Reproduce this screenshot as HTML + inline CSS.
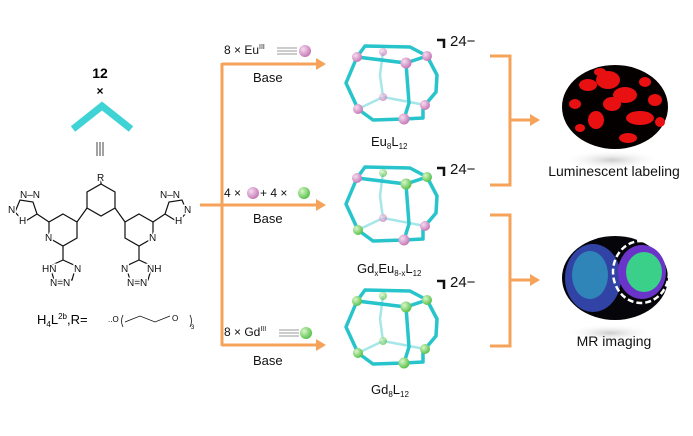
<!DOCTYPE html>
<html><head><meta charset="utf-8"><style>
html,body{margin:0;padding:0;background:#fff;}
body{width:693px;height:431px;position:relative;overflow:hidden;font-family:"Liberation Sans",Arial,sans-serif;}
</style></head><body>
<svg width="693" height="431" viewBox="0 0 693 431" xmlns="http://www.w3.org/2000/svg" font-family="Liberation Sans, Arial, sans-serif">
<defs>
<radialGradient id="pk" cx="35%" cy="35%" r="65%"><stop offset="0" stop-color="#f6dcf0"/><stop offset="1" stop-color="#c77bb8"/></radialGradient>
<radialGradient id="gr" cx="35%" cy="35%" r="65%"><stop offset="0" stop-color="#d9f7c8"/><stop offset="1" stop-color="#5cc24f"/></radialGradient>
<radialGradient id="sh" cx="50%" cy="50%" r="50%"><stop offset="0" stop-color="#ccc"/><stop offset="1" stop-color="#fff" stop-opacity="0"/></radialGradient>
<g id="cage">
 <g stroke="#a6e6e8" stroke-width="2.5" fill="none">
  <polyline points="383,52 380,75 383,97 358,109"/><polyline points="383,97 425,105"/>
 </g>
 <g stroke="#27c4cb" stroke-width="3.5" fill="none" stroke-linejoin="round">
  <polyline points="357,57 365,46 410,47 427,56"/>
  <polyline points="357,57 346,83 358,109 373,120 404,119"/>
  <polyline points="427,56 437,75 436,92 425,105"/>
  <polyline points="404,119 423,118 423,105 425,105"/>
  <polyline points="357,57 406,63 427,56"/>
  <polyline points="406,63 409,103 404,119"/>
 </g>
</g>
</defs>
<!-- ligand -->
<text x="100" y="78" font-size="14" font-weight="bold" text-anchor="middle">12</text>
<text x="100" y="95" font-size="12" font-weight="bold" text-anchor="middle">×</text>
<polyline points="73,129 102,106 131,129" stroke="#3fd3d6" stroke-width="7" fill="none"/>
<g stroke="#444" stroke-width="1"><line x1="97" y1="142" x2="97" y2="156"/><line x1="100" y1="142" x2="100" y2="156"/><line x1="103" y1="142" x2="103" y2="156"/></g>
<g stroke="#111" stroke-width="1.2" fill="none">
 <polygon points="101,184 115,192 115,208 101,216 87,208 87,192"/>
 <line x1="101" y1="184" x2="101" y2="174"/>
 <polygon points="63,214 77,222 77,238 63,246 49,238 49,222"/>
 <polygon points="139,214 153,222 153,238 139,246 125,238 125,222"/>
 <line x1="87" y1="208" x2="77" y2="222"/><line x1="115" y1="208" x2="125" y2="222"/>
 <line x1="49" y1="222" x2="37" y2="214"/><line x1="153" y1="222" x2="165" y2="214"/>
 <line x1="63" y1="246" x2="63" y2="260"/><line x1="139" y1="246" x2="139" y2="260"/>
 <polygon points="37,214 33,202 20,200 15,212 24,222"/>
 <polygon points="165,214 169,202 182,200 187,212 178,222"/>
 <polygon points="63,260 50,266 54,280 72,280 76,266"/>
 <polygon points="139,260 126,266 130,280 148,280 152,266"/>
</g>
<g font-size="10" fill="#111" stroke="#fff" stroke-width="3" paint-order="stroke">
 <text x="97" y="181">R</text>
 <text x="45" y="241">N</text><text x="149" y="241">N</text>
 <text x="20" y="198">N–N</text><text x="8" y="213">N</text><text x="19" y="224">H</text>
 <text x="160" y="198">N–N</text><text x="184" y="213">N</text><text x="175" y="224">H</text>
 <text x="42" y="272">HN</text><text x="74" y="272">N</text><text x="50" y="286">N=N</text>
 <text x="121" y="272">N</text><text x="147" y="272">NH</text><text x="127" y="286">N=N</text>
</g>
<text x="37" y="324" font-size="13">H<tspan font-size="8" dy="3">4</tspan><tspan dy="-3">L</tspan><tspan font-size="8" dy="-5">2b</tspan><tspan dy="5">,R=</tspan></text>
<text x="108" y="322" font-size="8">..O</text><path d="M123 315 q-3 6 0 12 M190 315 q3 6 0 12" stroke="#111" fill="none" stroke-width="0.8"/>
<polyline points="125,322 140,316 155,322 170,316" stroke="#111" fill="none" stroke-width="0.8"/><text x="172" y="321" font-size="8">O</text><text x="191" y="329" font-size="6">3</text>
<!-- arrows -->
<g stroke="#f5a35a" stroke-width="3" fill="#f5a35a">
 <line x1="222" y1="63" x2="222" y2="346"/>
 <line x1="200" y1="205" x2="318" y2="205"/>
 <line x1="222" y1="64" x2="318" y2="64"/>
 <line x1="222" y1="345" x2="318" y2="345"/>
 <polygon stroke="none" points="316,58 326,64 316,70"/><polygon stroke="none" points="316,199 326,205 316,211"/><polygon stroke="none" points="316,339 326,345 316,351"/>
 <polyline fill="none" points="490,56 510,56 510,185 490,185"/><line x1="510" y1="120" x2="532" y2="120"/>
 <polygon stroke="none" points="530,114 540,120 530,126"/>
 <polyline fill="none" points="490,215 510,215 510,346 490,346"/><line x1="510" y1="280" x2="532" y2="280"/>
 <polygon stroke="none" points="530,274 540,280 530,286"/>
</g>
<g font-size="12" fill="#111">
 <text x="224" y="54">8 × Eu<tspan font-size="7" dy="-5">III</tspan></text>
 <text x="253" y="82" font-size="13">Base</text>
 <text x="224" y="197">4 ×</text><text x="260" y="197">+ 4 ×</text>
 <text x="253" y="223" font-size="13">Base</text>
 <text x="224" y="336">8 × Gd<tspan font-size="7" dy="-5">III</tspan></text>
 <text x="253" y="365" font-size="13">Base</text>
</g>
<g stroke="#777" stroke-width="0.8"><line x1="277" y1="48" x2="297" y2="48"/><line x1="277" y1="51" x2="297" y2="51"/><line x1="277" y1="54" x2="297" y2="54"/>
<line x1="279" y1="330" x2="299" y2="330"/><line x1="279" y1="333" x2="299" y2="333"/><line x1="279" y1="336" x2="299" y2="336"/></g>
<circle cx="305" cy="51" r="6" fill="url(#pk)"/><circle cx="253" cy="193" r="6" fill="url(#pk)"/>
<circle cx="304" cy="193" r="6" fill="url(#gr)"/><circle cx="306" cy="333" r="6" fill="url(#gr)"/>
<!-- cages -->
<use href="#cage"/>
<g fill="url(#pk)"><circle cx="357" cy="57" r="5"/><circle cx="383" cy="52" r="4" opacity=".7"/><circle cx="406" cy="63" r="5.5"/><circle cx="427" cy="56" r="5"/><circle cx="383" cy="97" r="4" opacity=".7"/><circle cx="358" cy="109" r="5"/><circle cx="425" cy="105" r="5"/><circle cx="404" cy="119" r="5.5"/></g>
<g transform="translate(0,121)"><use href="#cage"/>
<circle cx="357" cy="57" r="5" fill="url(#pk)"/><circle cx="383" cy="52" r="4" fill="url(#gr)" opacity=".7"/><circle cx="406" cy="63" r="5.5" fill="url(#gr)"/><circle cx="427" cy="56" r="5" fill="url(#gr)"/><circle cx="383" cy="97" r="4" fill="url(#pk)" opacity=".7"/><circle cx="358" cy="109" r="5" fill="url(#gr)"/><circle cx="425" cy="105" r="5" fill="url(#pk)"/><circle cx="404" cy="119" r="5.5" fill="url(#pk)"/></g>
<g transform="translate(0,244)"><use href="#cage"/>
<g fill="url(#gr)"><circle cx="357" cy="57" r="5"/><circle cx="383" cy="52" r="4" opacity=".7"/><circle cx="406" cy="63" r="5.5"/><circle cx="427" cy="56" r="5"/><circle cx="383" cy="97" r="4" opacity=".7"/><circle cx="358" cy="109" r="5"/><circle cx="425" cy="105" r="5"/><circle cx="404" cy="119" r="5.5"/></g></g>
<g font-size="13" fill="#111">
 <text x="371" y="146">Eu<tspan font-size="8" dy="3">8</tspan><tspan dy="-3">L</tspan><tspan font-size="8" dy="3">12</tspan></text>
 <text x="357" y="273">Gd<tspan font-size="8" dy="3">x</tspan><tspan dy="-3">Eu</tspan><tspan font-size="8" dy="3">8-x</tspan><tspan dy="-3">L</tspan><tspan font-size="8" dy="3">12</tspan></text>
 <text x="371" y="394">Gd<tspan font-size="8" dy="3">8</tspan><tspan dy="-3">L</tspan><tspan font-size="8" dy="3">12</tspan></text>
 <g font-size="15"><text x="450" y="46">24−</text><text x="450" y="174">24−</text><text x="450" y="287">24−</text></g>
</g>
<g stroke="#111" stroke-width="2.5" fill="none"><polyline points="437,40 444,40 444,48"/><polyline points="437,168 444,168 444,176"/><polyline points="437,281 444,281 444,289"/></g>
<!-- images -->
<ellipse cx="612" cy="160" rx="50" ry="10" fill="url(#sh)"/>
<ellipse cx="615" cy="107" rx="53" ry="42" fill="#050000"/>
<g fill="#e81010">
 <ellipse cx="588" cy="85" rx="9" ry="6"/><ellipse cx="608" cy="80" rx="12" ry="9"/><ellipse cx="625" cy="95" rx="12" ry="8"/><ellipse cx="612" cy="104" rx="9" ry="7"/>
 <ellipse cx="640" cy="118" rx="14" ry="7"/><ellipse cx="596" cy="120" rx="8" ry="9"/><ellipse cx="655" cy="100" rx="7" ry="6"/><ellipse cx="628" cy="138" rx="9" ry="5"/><ellipse cx="575" cy="104" rx="6" ry="5"/><ellipse cx="645" cy="82" rx="6" ry="5"/><ellipse cx="580" cy="128" rx="5" ry="4"/><ellipse cx="600" cy="72" rx="6" ry="4"/><ellipse cx="660" cy="122" rx="5" ry="5"/>
</g>
<text x="614" y="176" font-size="14" text-anchor="middle" fill="#111">Luminescent labeling</text>
<ellipse cx="610" cy="333" rx="45" ry="9" fill="url(#sh)"/>
<ellipse cx="615" cy="278" rx="53" ry="42" fill="#05050a"/>
<ellipse cx="593" cy="278" rx="28" ry="34" fill="#3a4fc0" opacity=".85"/>
<ellipse cx="590" cy="275" rx="18" ry="24" fill="#2f9fc0" opacity=".7"/>
<ellipse cx="642" cy="272" rx="24" ry="27" fill="#6a34c8"/>
<ellipse cx="644" cy="272" rx="18" ry="20" fill="#3ad08a"/>
<ellipse cx="641" cy="272" rx="28" ry="31" fill="none" stroke="#fff" stroke-width="2.5" stroke-dasharray="6 3"/>
<text x="614" y="346" font-size="14" text-anchor="middle" fill="#111">MR imaging</text>
</svg>
</body></html>
